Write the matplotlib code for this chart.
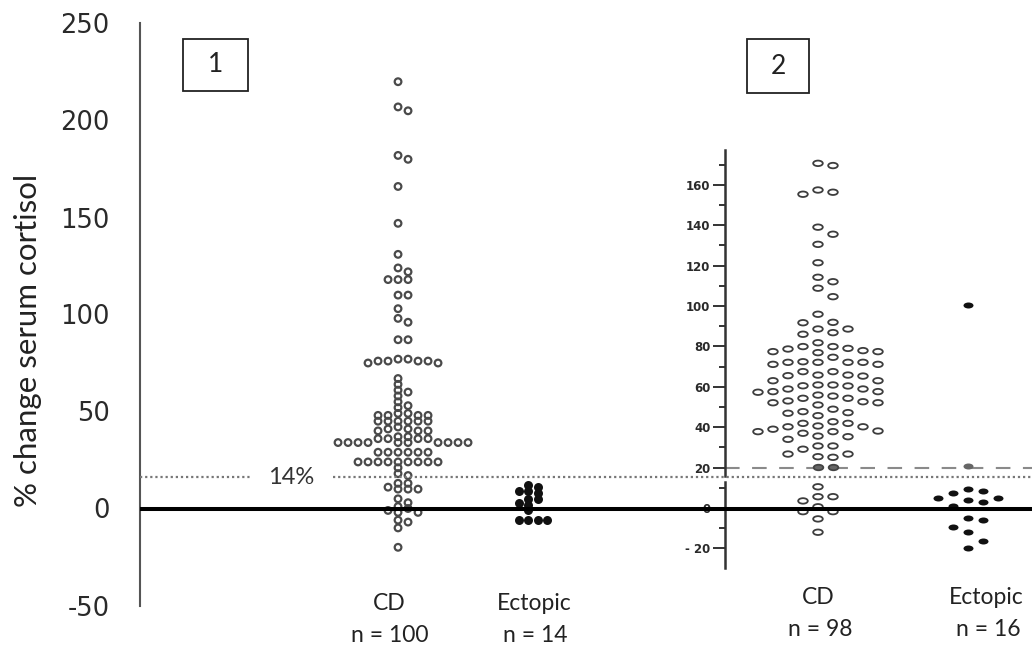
import numpy as np
import matplotlib.pyplot as plt
from matplotlib.patches import Rectangle
from matplotlib.path import Path
from matplotlib.transforms import Affine2D

plt.rcParams['axes.unicode_minus'] = False

# ---- data ----
# panel 1 (% change serum cortisol)
cd1 = [220, 207, 205, 182, 180, 166, 147, 131, 124, 122,
       118, 118, 118, 110, 110, 103, 98, 96, 87, 87,
       77, 77, 76, 76, 76, 76, 75, 75,
       67, 64, 61, 60, 58, 55, 53, 52,
       49, 49, 48, 48, 48, 48,
       45, 45, 45, 45, 45, 45,
       42, 41, 41, 40, 40, 40,
       37, 37, 36, 36, 36, 36,
       34, 34, 34, 34, 34, 34, 34, 34, 34, 34,
       29, 29, 29, 29, 29, 29,
       24, 24, 24, 24, 24, 24, 24, 24, 24, 21,
       18, 17, 13, 13, 11, 10, 10, 10,
       5, 3, 1, 0, -1, -2, -2, -6, -7, -10, -20]
ect1 = [12, 11, 9, 9, 8, 5, 5, 3, 2, -1, -6, -6, -6, -6]

# panel 2 (inset, own scale)
cd2 = [170.6, 169.5, 157.4, 156.3, 155.3, 139, 135.5, 130.5, 121.4, 114.2,
       112, 108.8, 104.6, 95.9, 91.9, 91.7, 88.6, 88.6, 86.8, 86,
       81.8, 79.9, 79.9, 79, 78.7, 77.9, 77.4, 77.4, 76.9, 74.6,
       72.4, 72.1, 72.1, 72.1, 72.1, 71.1, 71.1, 67.5, 67.5, 65.8,
       65.8, 65.5, 65.3, 63, 63, 60.9, 60.9, 60.5, 60.4, 58.9,
       58.9, 57.6, 57.6, 57.3, 55.9, 55.4, 54.3, 54.3, 53, 52.6,
       52.1, 52.1, 51, 48.9, 47.7, 47.2, 46.9, 45.7, 42.7, 41.9,
       41.9, 40.6, 40.2, 40.2, 39, 38.1, 37.8, 37.8, 37, 35.6,
       35.3, 34, 30.7, 30.7, 29.1, 26.7, 26.7, 25.4, 25.1,
       10.5, 5.6, 5.6, 3.5, 0.6, -1.8, -1.8, -5.4, -12]
cd2_cut = [20.3, 20.3]
ect2 = [100.5, 9.2, 8.4, 7.3, 5.1, 5.1, 4, 2.8, 1, -4.8, -5.9, -9.2,
        -11.7, -16.2, -20]
ect2_cut = [20.8]

threshold1 = 16      # dotted line, labelled 14%
cutoff2 = 20         # dashed line of the inset
ticks1 = [-50, 0, 50, 100, 150, 200, 250]
ticks2 = [-20, 0, 20, 40, 60, 80, 100, 120, 140, 160]
groups = ['CD', 'Ectopic']
n_left = [100, 14]
n_right = [98, 16]

W, H = 1032, 648
fig = plt.figure(figsize=(W / 100, H / 100), dpi=100)


def fx(px):
    return px / W


def fy(py):
    return 1 - py / H


def swarm_x(ax, values, center, step, wx, hy):
    """simple dot-plot layout in pixel space, returns data x"""
    t = ax.transData
    vals = np.asarray(values, float)
    cx = t.transform((center, 0))[0]
    ys = t.transform(np.column_stack([np.full(len(vals), center), vals]))[:, 1]
    placed = []
    xs = np.empty(len(vals))
    for i in np.argsort(-vals, kind='stable'):
        k = 0
        found = None
        while found is None:
            for o in ([0] if k == 0 else [k * step, -k * step]):
                if all(abs(cx + o - px) >= wx or abs(ys[i] - py) >= hy for px, py in placed):
                    found = o
                    break
            k += 1
        placed.append((cx + found, ys[i]))
        xs[i] = cx + found
    return t.inverted().transform(np.column_stack([xs, ys]))[:, 0]


# main (left) axes, spans whole width for the reference lines
ax = fig.add_axes([fx(140), fy(605.5), fx(1032) - fx(140), fy(23.5) - fy(605.5)])
ax.set_ylim(-50, 250)
ax.set_xlim(-0.985, 5.877)
# inset (right) axes
ax2 = fig.add_axes([fx(725), fy(568), fx(1032) - fx(725), fy(150) - fy(568)])
ax2.set_ylim(-29.7, 177.2)
ax2.set_xlim(0.38, 2.427)

ax.set_zorder(2)
ax2.set_zorder(1)
ax.patch.set_visible(False)
ax2.patch.set_visible(False)

# left axis styling
for s in ['top', 'right', 'bottom']:
    ax.spines[s].set_visible(False)
ax.spines['left'].set_color('#555555')
ax.spines['left'].set_linewidth(1.5)
ax.set_xticks([])
ax.set_yticks(ticks1)
ax.tick_params(axis='y', length=0, pad=22, labelsize=18.5, labelcolor='#2a2a2a')
for lab in ax.get_yticklabels():
    lab.set_fontfamily('DejaVu Sans')

# inset axis styling
for s in ['top', 'right', 'bottom']:
    ax2.spines[s].set_visible(False)
ax2.spines['left'].set_color('#333333')
ax2.spines['left'].set_linewidth(1.8)
ax2.spines['left'].set_bounds(16, 177.2)
ax2.axvline(ax2.get_xlim()[0], ymin=0, ymax=(13 + 29.7) / (177.2 + 29.7),
            color='#333333', lw=1.8, clip_on=False)
ax2.set_xticks([])
ax2.set_yticks(ticks2, labels=[f'- {abs(v)}' if v < 0 else str(v) for v in ticks2])
ax2.set_yticks(np.arange(-10, 180, 20), minor=True)
ax2.tick_params(axis='y', which='major', length=9, width=1.4, pad=1.5,
                labelsize=8.5, labelcolor='#2a2a2a', color='#333333')
ax2.tick_params(axis='y', which='minor', length=4.5, width=1.4, color='#333333')
for lab in ax2.get_yticklabels():
    lab.set_fontweight('bold')

# reference lines
ax.axhline(0, color='black', lw=2.9, zorder=5)
ax.axhline(threshold1, xmin=0, xmax=0.123, color='#777777', lw=1.6,
           linestyle=(0, (1, 1.3)), zorder=4)
ax.axhline(threshold1, xmin=0.216, xmax=1, color='#777777', lw=1.6,
           linestyle=(0, (1, 1.3)), zorder=4)
ax2.axhline(cutoff2, color='#8a8a8a', lw=1.5, linestyle=(0, (7, 6)), zorder=1)

# left panel points
x_cd1 = swarm_x(ax, cd1, 1, 10, 9.5, 5)
ax.scatter(x_cd1, cd1, s=23, facecolors='none', edgecolors='#4a4a4a',
           linewidths=1.6, zorder=3)
x_e1 = swarm_x(ax, ect1, 2, 9.5, 9, 5)
ax.scatter(x_e1, ect1, s=42, color='#111111', linewidths=0, zorder=3)

# right panel points (elliptical markers)
ell = Affine2D().scale(1.75, 1).transform_path(Path.unit_circle())
ell_f = Affine2D().scale(1.67, 1).transform_path(Path.unit_circle())

cd2_all = cd2 + cd2_cut
x_cd2 = swarm_x(ax2, cd2_all, 1, 3, 12.5, 9.5)
n_open = len(cd2)
ax2.scatter(x_cd2[:n_open], cd2, s=48, marker=ell, facecolors='none',
            edgecolors='#3d3d3d', linewidths=1.3, zorder=3)
ax2.scatter(x_cd2[n_open:], cd2_cut, s=48, marker=ell, facecolors='#666666',
            edgecolors='#444444', linewidths=1.3, zorder=3)

ect2_all = ect2 + ect2_cut
x_e2 = swarm_x(ax2, ect2_all, 2, 3, 12.5, 9.5)
n_e = len(ect2)
ax2.scatter(x_e2[:n_e], ect2, s=52, marker=ell_f, color='#111111',
            linewidths=0, zorder=3)
ax2.scatter(x_e2[n_e:], ect2_cut, s=52, marker=ell_f, color='#666666',
            linewidths=0, zorder=3)

# texts
lab_font = dict(family='Lato', fontsize=16.5, color='#222222', ha='center', va='center')
for name, n, (xp, yp) in zip(groups, n_left, [(389, 603), (534, 603)]):
    fig.text(fx(xp), fy(yp), name, **lab_font)
    fig.text(fx(xp + 1), fy(yp + 32), f'n = {n}', **lab_font)
for name, n, (xp, yp) in zip(groups, n_right, [(818, 597), (986, 597)]):
    fig.text(fx(xp), fy(yp), name, **lab_font)
    fig.text(fx(xp + 2), fy(yp + 33), f'n = {n}', **lab_font)

fig.text(fx(291), fy(477), '14%', family='Lato', fontsize=17, color='#333333',
         ha='center', va='center')
fig.text(fx(28), fy(340), '% change serum cortisol', family='Lato', fontsize=22.5,
         color='#222222', rotation=90, ha='center', va='center')

# numbered boxes
for label, (x0, y0, x1, y1) in zip(['1', '2'], [(183, 39, 248, 91), (747, 39, 809, 93)]):
    fig.patches.append(Rectangle((fx(x0), fy(y1)), fx(x1) - fx(x0), fy(y0) - fy(y1),
                                 transform=fig.transFigure, fill=False,
                                 edgecolor='#222222', lw=1.3))
    fig.text(fx((x0 + x1) / 2), fy((y0 + y1) / 2), label, family='Lato', fontsize=19,
             color='#222222', ha='center', va='center')

fig.savefig('out.png', dpi=100)
